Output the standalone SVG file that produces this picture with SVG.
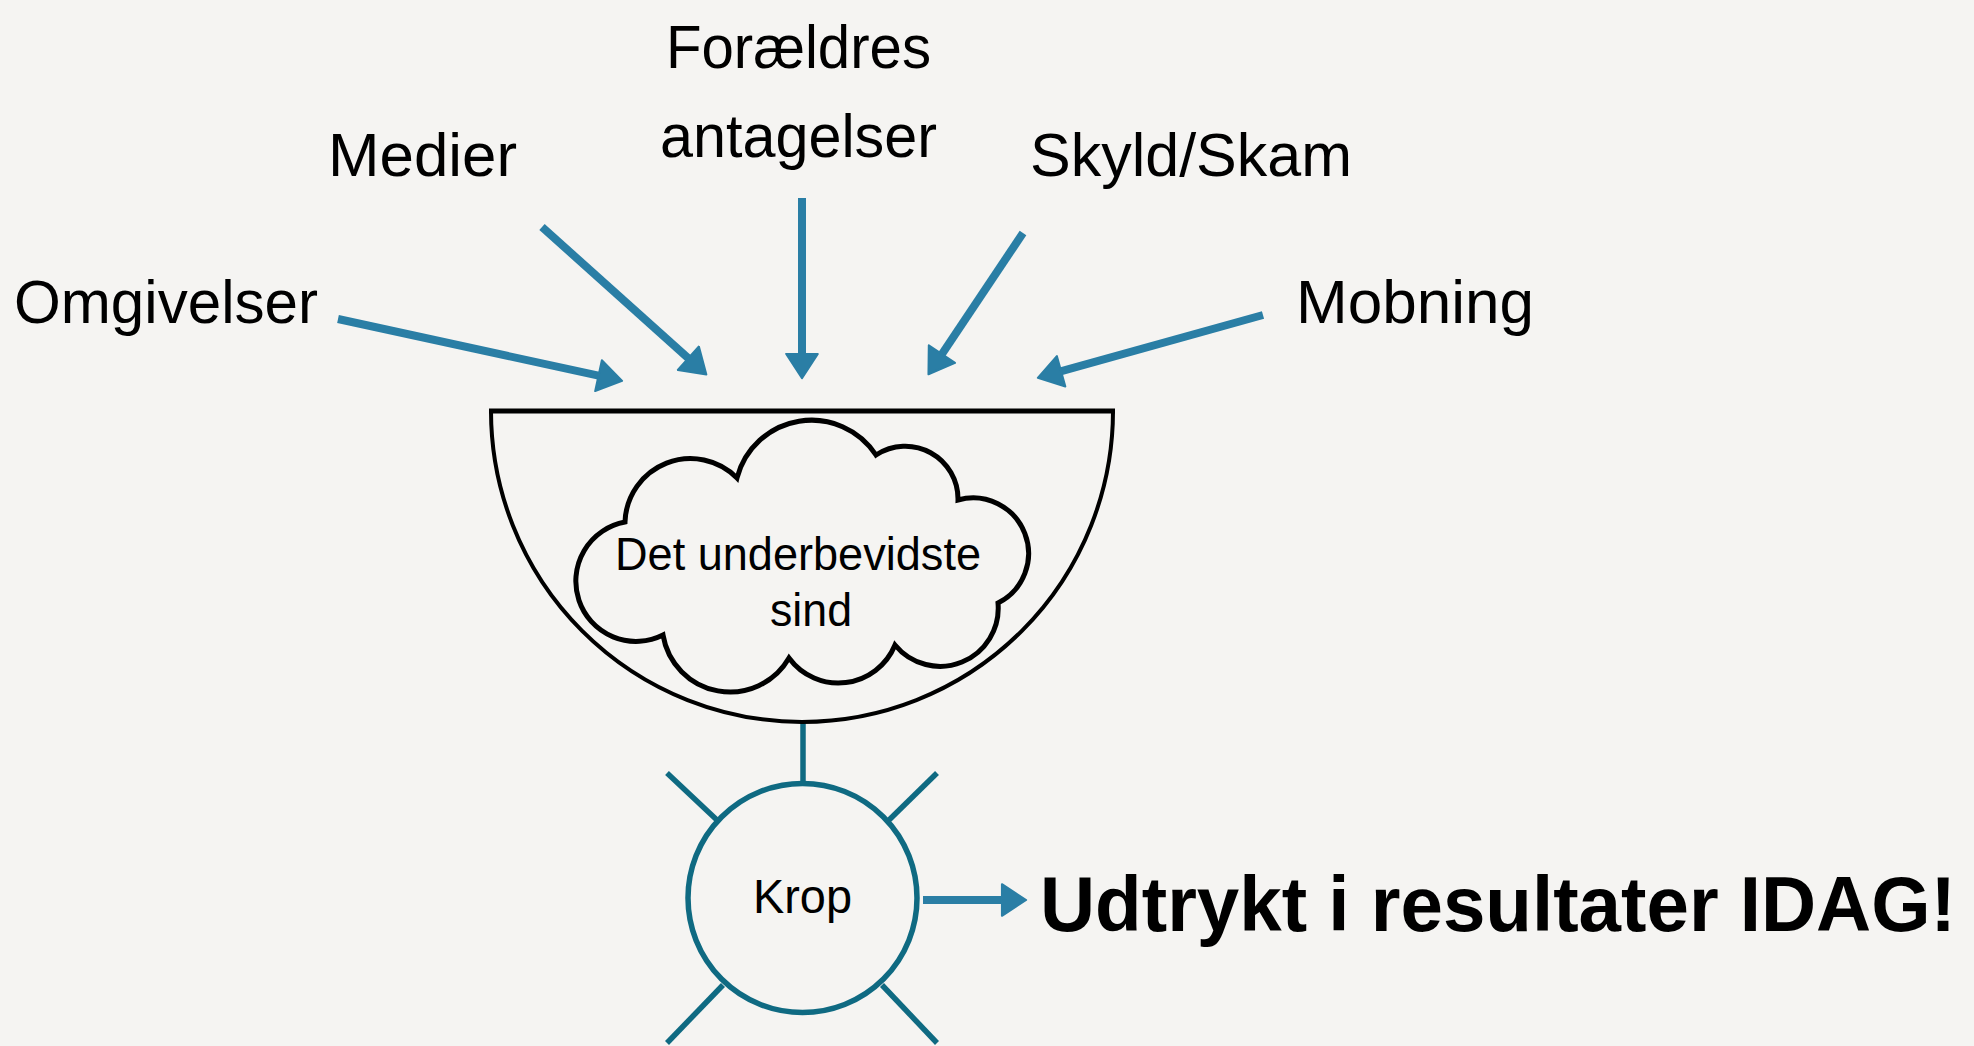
<svg xmlns="http://www.w3.org/2000/svg" width="1974" height="1046" viewBox="0 0 1974 1046">
  <defs>
    <marker id="ah" viewBox="0 0 10 10" refX="3.1" refY="5" markerWidth="4.2" markerHeight="4.2" orient="auto">
      <path d="M1,0.3 L8.2,5 L1,9.7 Z" fill="#2a7ea5" stroke="#2a7ea5" stroke-width="0.6" stroke-linejoin="round"/>
    </marker>
    <style>
      .lbl { font-family: "Liberation Sans", Arial, sans-serif; font-size: 62px; fill: #000; }
      .small { font-family: "Liberation Sans", Arial, sans-serif; font-size: 46px; fill: #000; }
      .big { font-family: "Liberation Sans", Arial, sans-serif; font-size: 77px; font-weight: bold; fill: #000; }
      .arr { stroke: #2a7ea5; stroke-width: 8; fill: none; marker-end: url(#ah); }
      .teal { stroke: #0f6a82; stroke-width: 5.5; fill: none; }
      .outline { stroke: #000; fill: none; }
    </style>
  </defs>
  <rect x="0" y="0" width="1974" height="1046" fill="#f5f4f2"/>

  <g id="connectors">
    <line class="arr" x1="338" y1="319" x2="605.4" y2="377.2"/>
    <line class="arr" x1="542" y1="227" x2="693.6" y2="363"/>
    <line class="arr" x1="802" y1="198" x2="802" y2="361"/>
    <line class="arr" x1="1023" y1="233" x2="938" y2="360"/>
    <line class="arr" x1="1263" y1="315" x2="1054.3" y2="373.2"/>
    <line class="teal" x1="803" y1="722" x2="803" y2="784"/>
    <line class="arr" x1="923" y1="900" x2="1009" y2="900"/>
  </g>

  <g id="label-omgivelser"><text class="lbl" x="14" y="323" textLength="304" lengthAdjust="spacingAndGlyphs">Omgivelser</text></g>
  <g id="label-medier"><text class="lbl" x="328" y="176" textLength="189" lengthAdjust="spacingAndGlyphs">Medier</text></g>
  <g id="label-foraeldres">
    <text class="lbl" x="666" y="68" textLength="265" lengthAdjust="spacingAndGlyphs">Forældres</text>
    <text class="lbl" x="660" y="157" textLength="277" lengthAdjust="spacingAndGlyphs">antagelser</text>
  </g>
  <g id="label-skyld"><text class="lbl" x="1030" y="176" textLength="322" lengthAdjust="spacingAndGlyphs">Skyld/Skam</text></g>
  <g id="label-mobning"><text class="lbl" x="1296" y="323" textLength="238" lengthAdjust="spacingAndGlyphs">Mobning</text></g>

  <g id="bowl">
    <path class="outline" stroke-width="4" d="M491,411 A311,311 0 0 0 1113,411"/>
    <line class="outline" stroke-width="5" x1="489" y1="411" x2="1115" y2="411"/>
  </g>

  <g id="cloud">
    <path class="outline" stroke-width="5" stroke-linejoin="miter" d="M625,522 A65.5,65.5 0 0 1 737,478 A77,77 0 0 1 876,455 A52.8,52.8 0 0 1 958,500 A55.5,55.5 0 0 1 998,603 A58.2,58.2 0 0 1 895,645 A61.2,61.2 0 0 1 789,658 A68,68 0 0 1 663,635 A60.2,60.2 0 1 1 625,522 Z"/>
    <text class="small" x="615" y="570" textLength="366" lengthAdjust="spacingAndGlyphs">Det underbevidste</text>
    <text class="small" x="770" y="626" textLength="82" lengthAdjust="spacingAndGlyphs">sind</text>
  </g>

  <g id="krop">
    <circle class="teal" cx="802.5" cy="898" r="114.5"/>
    <line class="teal" x1="667" y1="773" x2="718" y2="821"/>
    <line class="teal" x1="937" y1="773" x2="888" y2="821"/>
    <line class="teal" x1="723" y1="985" x2="667" y2="1043"/>
    <line class="teal" x1="882" y1="985" x2="937" y2="1043"/>
    <text class="small" x="753" y="913" textLength="99" lengthAdjust="spacingAndGlyphs" style="font-size:48px">Krop</text>
  </g>

  <g id="result"><text class="big" x="1040" y="931" textLength="916" lengthAdjust="spacingAndGlyphs">Udtrykt i resultater IDAG!</text></g>
</svg>
